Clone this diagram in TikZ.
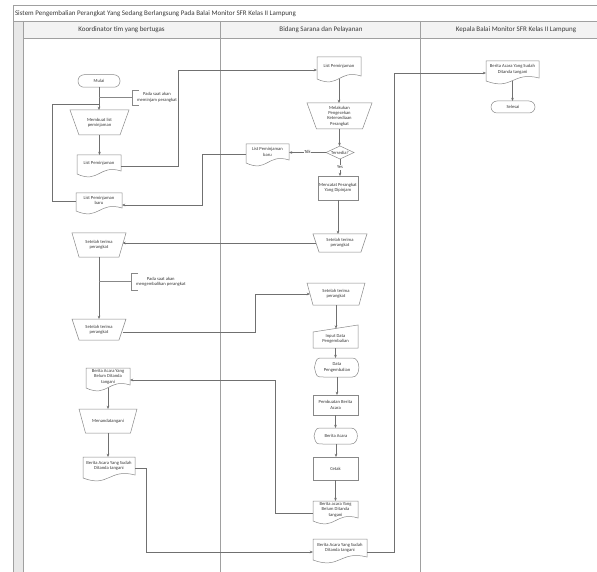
\documentclass[tikz,border=0pt]{standalone}
\usepackage{fontspec}
\setmainfont{Carlito}
\usetikzlibrary{arrows.meta,calc}
\definecolor{frameline}{HTML}{A0A0A0}
\definecolor{shapeline}{HTML}{888888}
\definecolor{flowline}{HTML}{707070}
\definecolor{headfill}{HTML}{F3F3F3}
\definecolor{stripfill}{HTML}{E8E8E8}
\definecolor{txt}{HTML}{383838}
\begin{document}
\begin{tikzpicture}[x=1pt,y=-1pt,
  every node/.style={inner sep=0pt, outer sep=0pt},
  nodefont/.style={font=\fontsize{4.6}{5.4}\selectfont, text=txt, align=center},
  headfont/.style={font=\fontsize{7}{8}\selectfont, text=txt},
  frame/.style={draw=frameline, line width=0.5pt},
  outline/.style={draw=shapeline, line width=0.5pt},
  flow/.style={draw=flowline, line width=0.55pt},
  arr/.style={flow, -{Stealth[length=3.2pt,width=2.6pt]}},
  annline/.style={draw=shapeline, line width=0.5pt},
  proc/.style={nodefont, rectangle, outline, fill=white},
  term/.style={nodefont, rectangle, outline, fill=white, rounded corners=6pt},
  shapebox/.style={nodefont, rectangle},
  annot/.style={nodefont, anchor=west, inner xsep=5pt}
]
\useasboundingbox (0,0) rectangle (597,572);

% ---------- pool and lanes ----------
\fill[stripfill] (13,21) rectangle (23,572);
\fill[headfill] (23,21) rectangle (612,38);
\draw[frame] (13,5) -- (612,5);
\draw[frame] (13,21) -- (612,21);
\draw[frame] (23,38) -- (612,38);
\draw[frame] (13,5) -- (13,572);
\draw[frame] (23,21) -- (23,572);
\draw[frame] (220,21) -- (220,572);
\draw[frame] (420,21) -- (420,572);

\node[headfont, anchor=west] (title) at (15,13.5)
  {Sistem Pengembalian Perangkat Yang Sedang Berlangsung Pada Balai Monitor SFR Kelas II Lampung};
\node[headfont] (h1) at (121.5,29.5) {Koordinator tim yang bertugas};
\node[headfont] (h2) at (321,29.5) {Bidang Sarana dan Pelayanan};
\node[headfont] (h3) at (516,29.5) {Kepala Balai Monitor SFR Kelas II Lampung};

% ---------- lane 1: Koordinator ----------
\node[term, minimum width=42pt, minimum height=12.5pt] (mulai) at (99,81) {Mulai};
\node[annot, minimum height=15pt] (ann1) at (132,97.5) {Pada saat akan\\meminjam perangkat};
\node[shapebox, minimum width=59pt, minimum height=25pt] (buat) at (99.5,122.5) {Membuat list\\peminjaman};
\node[shapebox, minimum width=44pt, minimum height=21pt,
  label={[nodefont, yshift=2.5pt]center:{List Peminjaman}}] (lp1) at (99,165.5) {};
\node[shapebox, minimum width=46pt, minimum height=20pt,
  label={[nodefont, yshift=2.5pt]center:{List Peminjaman\\baru}}] (lpb1) at (99,203) {};
\node[shapebox, minimum width=54pt, minimum height=24pt] (st1) at (99,245) {Setelah terima\\perangkat};
\node[annot, minimum height=17pt] (ann2) at (131,281.5) {Pada saat akan\\mengembalikan perangkat};
\node[shapebox, minimum width=54pt, minimum height=21pt] (st2) at (99,329.5) {Setelah terima\\perangkat};
\node[shapebox, minimum width=44pt, minimum height=22pt,
  label={[nodefont, yshift=2.5pt]center:{Berita Acara Yang\\Belum Ditanda\\tangani}}] (bab1) at (108,379) {};
\node[shapebox, minimum width=58pt, minimum height=24pt] (ttd) at (108,421) {Menandatangani};
\node[shapebox, minimum width=52pt, minimum height=23pt,
  label={[nodefont, yshift=2.5pt]center:{Berita Acara Yang Sudah\\Ditanda tangani}}] (bas1) at (109,468.5) {};

% ---------- lane 2: Bidang Sarana dan Pelayanan ----------
\node[shapebox, minimum width=44pt, minimum height=24pt,
  label={[nodefont, yshift=2.5pt]center:{List Peminjaman}}] (lp2) at (339,69) {};
\node[shapebox, minimum width=65pt, minimum height=26pt] (cek) at (339.5,116)
  {Melakukan\\Pengecekan\\Ketersediaan\\Perangkat};
\node[shapebox, minimum width=28pt, minimum height=13pt] (ters) at (340,152.5) {Tersedia?};
\node[shapebox, minimum width=43pt, minimum height=21pt,
  label={[nodefont, yshift=2.5pt]center:{List Peminjaman\\baru}}] (lpb2) at (267.5,154.5) {};
\node[proc, minimum width=40pt, minimum height=24pt] (catat) at (338,188) {Mencatat Perangkat\\Yang Dipinjam};
\node[shapebox, minimum width=54pt, minimum height=18pt] (st3) at (340,243) {Setelah terima\\perangkat};
\node[shapebox, minimum width=58pt, minimum height=22pt] (st4) at (336,294) {Setelah terima\\perangkat};
\node[shapebox, minimum width=45pt, minimum height=23pt,
  label={[nodefont, yshift=-2.5pt]center:{Input Data\\Pengembalian}}] (input) at (335.5,336.5) {};
\node[shapebox, minimum width=45pt, minimum height=19pt] (dp) at (337,367.5) {Data\\Pengembalian};
\node[proc, minimum width=45pt, minimum height=20pt] (pba) at (335.5,405) {Pembuatan Berita\\Acara};
\node[shapebox, minimum width=44pt, minimum height=16pt] (ba) at (336,436) {Berita Acara};
\node[proc, minimum width=45pt, minimum height=23pt] (cetak) at (335.5,468.5) {Cetak};
\node[shapebox, minimum width=45pt, minimum height=22pt,
  label={[nodefont, yshift=2.5pt]center:{Berita acara Yang\\Belum Ditanda\\tangani}}] (bab2) at (335.5,512) {};
\node[shapebox, minimum width=54pt, minimum height=23pt,
  label={[nodefont, yshift=2.5pt]center:{Berita Acara Yang Sudah\\Ditanda tangani}}] (bas2) at (340,550.5) {};

% ---------- lane 3: Kepala Balai ----------
\node[shapebox, minimum width=53pt, minimum height=22pt,
  label={[nodefont, yshift=2.5pt]center:{Berita Acara Yang Sudah\\Ditanda tangani}}] (bas3) at (512.5,72) {};
\node[term, minimum width=44pt, minimum height=12pt] (selesai) at (513,107) {Selesai};

% ---------- shape outlines ----------
% documents (wavy bottom)
\foreach \n in {lp1,lpb1,bab1,bas1,lp2,lpb2,bab2,bas2,bas3}{
  \draw[outline] (\n.north west) -- (\n.north east) -- ([yshift=5pt]\n.south east)
    .. controls ([yshift=12pt]\n.south) and ([yshift=-8pt]\n.south) .. ([yshift=2pt]\n.south west) -- cycle;
}
% manual operations (wide top, narrow bottom)
\foreach \n/\d in {buat/9,st1/7,st2/7,ttd/6.5,cek/9.5,st3/6,st4/6}{
  \draw[outline] (\n.north west) -- (\n.north east) -- ([xshift=-\d pt]\n.south east)
    -- ([xshift=\d pt]\n.south west) -- cycle;
}
% manual input (sloped top)
\draw[outline] ([yshift=-7pt]input.north west) -- (input.north east) -- (input.south east)
  -- (input.south west) -- cycle;
% displays
\foreach \n in {dp,ba}{
  \draw[outline] (\n.west) .. controls ([xshift=2pt]\n.north west) .. ([xshift=9pt]\n.north west)
    -- ([xshift=-7pt]\n.north east)
    .. controls ([xshift=1.5pt]\n.north east) and ([xshift=1.5pt]\n.south east) .. ([xshift=-7pt]\n.south east)
    -- ([xshift=9pt]\n.south west) .. controls ([xshift=2pt]\n.south west) .. (\n.west) -- cycle;
}
% decision
\draw[outline] (ters.north) -- (ters.east) -- (ters.south) -- (ters.west) -- cycle;
% annotation brackets
\foreach \n in {ann1,ann2}{
  \draw[annline] ([xshift=7pt]\n.north west) -- (\n.north west) -- (\n.south west) -- ([xshift=7pt]\n.south west);
}

% ---------- connectors ----------
\coordinate (back) at (52,104);
\coordinate (r1) at (178,70);
\coordinate (r2) at (202,205);
\coordinate (r3) at (255,294);
\coordinate (r4) at (275,380);
\coordinate (r5) at (146,552);
\coordinate (r6) at (394,73);

\draw[arr] (mulai.south) -- (mulai.south |- buat.north);
\draw[annline] (mulai.south |- ann1.west) -- (ann1.west);
\draw[flow] ([yshift=2pt]lpb1.west) -| (back) -- (mulai.south |- back);
\draw[arr] (buat.south) -- (buat.south |- lp1.north);
\draw[arr] ([yshift=-1pt]lp1.east) -| (r1) -- (r1 -| lp2.west);
\draw[arr] ([yshift=2.4pt]lp2.south) -- (lp2.south |- cek.north);
\draw[arr] (cek.south) -- (cek.south |- ters.north);
\draw[arr] (ters.west) -- (ters.west -| lpb2.east)
  node[midway, nodefont, fill=white, inner sep=0.6pt, yshift=0.8pt] (tdk) {Tdk};
\draw[arr] (ters.south) -- (ters.south |- catat.north)
  node[midway, nodefont, fill=white, inner sep=0.6pt] (yes) {Yes};
\draw[arr] (lpb2.west) -| (r2) -- (r2 -| lpb1.east);
\draw[arr] (catat.south) -- (catat.south |- st3.north);
\draw[arr] ($(st3.west)+(3,0)$) -- ($(st3.west -| st1.east)+(-3.5,0)$);
\draw[arr] (st1.south) -- (st1.south |- st2.north);
\draw[annline] (st1.south |- ann2.west) -- (ann2.west);
\draw[arr] ($(st2.east)+(-3.5,2.5)$) -| (r3) -- ($(r3 -| st4.west)+(3,0)$);
\draw[arr] (st4.south) -- ($(st4.south |- input.north)+(0,3.5)$);
\draw[arr] (input.south) -- (input.south |- dp.north);
\draw[arr] (dp.south) -- (dp.south |- pba.north);
\draw[arr] (pba.south) -- (pba.south |- ba.north);
\draw[arr] (ba.south) -- (ba.south |- cetak.north);
\draw[arr] (cetak.south) -- (cetak.south |- bab2.north);
\draw[arr] ($(bab2.west)+(0,1)$) -| (r4) -- (r4 -| bab1.east);
\draw[arr] ([yshift=2.4pt]bab1.south) -- (bab1.south |- ttd.north);
\draw[arr] (ttd.south) -- (ttd.south |- bas1.north);
\draw[arr] (bas1.east) -| (r5) -- (r5 -| bas2.west);
\draw[arr] ($(bas2.east)+(0,1.5)$) -| (r6) -- (r6 -| bas3.west);
\draw[arr] ([yshift=2.4pt]bas3.south) -- (bas3.south |- selesai.north);
\end{tikzpicture}
\end{document}
